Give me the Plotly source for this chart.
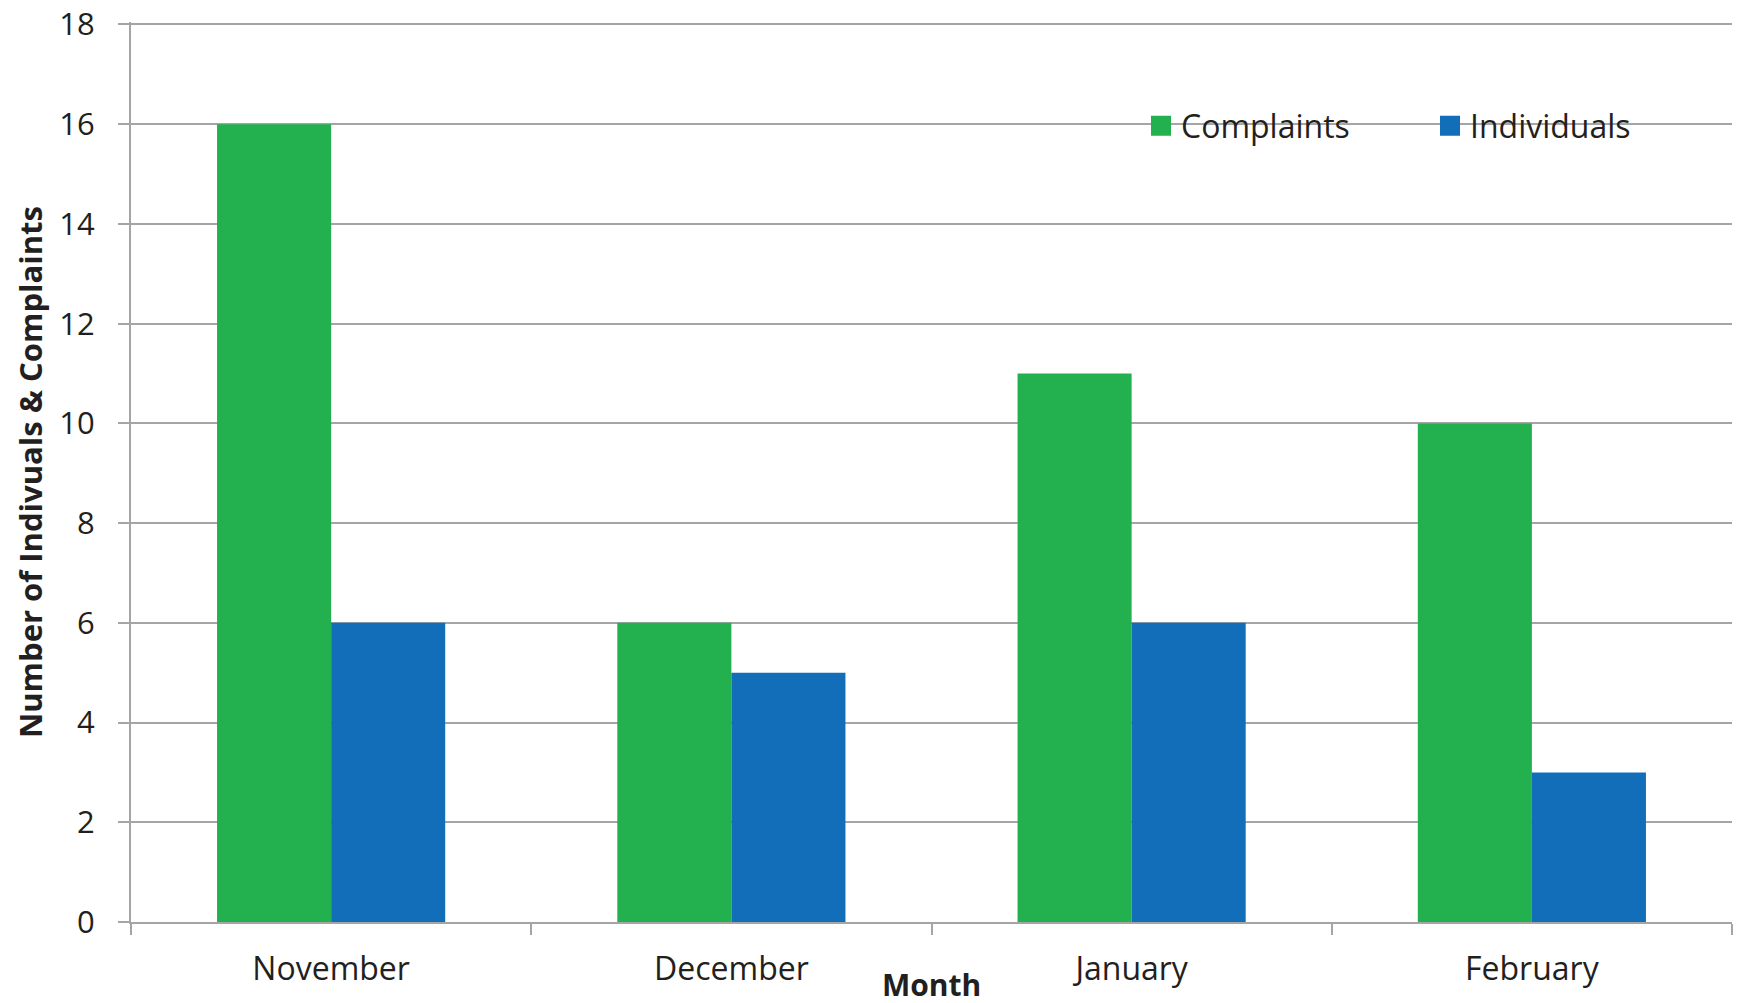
import plotly.graph_objects as go

months = ["November", "December", "January", "February"]
complaints = [16, 6, 11, 10]
individuals = [6, 5, 6, 3]
y_ticks = [0, 2, 4, 6, 8, 10, 12, 14, 16, 18]

GREEN = "#23B04F"
BLUE = "#126EB9"
GRID = "#A5A5A7"
TEXT = "#231F20"
FONT = "Open Sans"

OFF = 8  # default page body margin
W, H = 1743 - OFF, 1003 - OFF
L, R, T, B = 131 - OFF, 11, 22 - OFF, 81
pw = W - L - R
ph = H - T - B

def px_x(page_x):
    return (page_x - OFF - L) / pw

def px_y(page_y):
    return (T + ph - (page_y - OFF)) / ph

fig = go.Figure()
fig.add_trace(go.Bar(x=months, y=complaints, name="Complaints", showlegend=False,
                     marker=dict(color=GREEN, line=dict(width=0))))
fig.add_trace(go.Bar(x=months, y=individuals, name="Individuals", showlegend=False,
                     marker=dict(color=BLUE, line=dict(width=0))))
# legend entries with larger square swatches
fig.add_trace(go.Scatter(x=[None], y=[None], mode="markers", name="Complaints",
                         marker=dict(symbol="square", size=16, color=GREEN,
                                     line=dict(color=GREEN, width=4))))
fig.add_trace(go.Scatter(x=[None], y=[None], mode="markers", name="Individuals",
                         marker=dict(symbol="square", size=16, color=BLUE,
                                     line=dict(color=BLUE, width=4))))

fig.update_layout(
    width=W, height=H,
    margin=dict(l=L, r=R, t=T, b=B, pad=0, autoexpand=False),
    paper_bgcolor="white", plot_bgcolor="white",
    barmode="group", bargap=0.43, bargroupgap=0,
    font=dict(family=FONT, color=TEXT, size=32),
    showlegend=True,
    legend=dict(
        orientation="h",
        x=px_x(1141), y=px_y(126),
        xanchor="left", yanchor="middle",
        bgcolor="rgba(0,0,0,0)",
        font=dict(family=FONT, size=32, color=TEXT),
        itemwidth=30, entrywidth=244, entrywidthmode="pixels",
        traceorder="normal",
    ),
    xaxis=dict(
        type="category", tickson="boundaries",
        showgrid=False, showline=True, linecolor=GRID, linewidth=2,
        ticks="outside", ticklen=11, tickwidth=2, tickcolor=GRID,
        tickfont=dict(family=FONT, size=32, color=TEXT),
        ticklabelstandoff=18,
        zeroline=False,
    ),
    yaxis=dict(
        range=[0, 18.05], tickmode="array", tickvals=y_ticks,
        ticktext=[str(v) for v in y_ticks],
        ticklabeloverflow="allow",
        showgrid=True, gridcolor=GRID, gridwidth=2,
        showline=True, linecolor=GRID, linewidth=2,
        ticks="outside", ticklen=11, tickwidth=2, tickcolor=GRID,
        tickfont=dict(family=FONT, size=31, color=TEXT),
        ticklabelstandoff=17,
        zeroline=False,
    ),
    annotations=[
        dict(text="<b>Month</b>", xref="paper", yref="paper",
             x=0.5, y=px_y(984), xanchor="center", yanchor="middle",
             showarrow=False, font=dict(family=FONT, size=30, color=TEXT)),
        dict(text="<b>Number of Indivuals &amp; Complaints</b>", xref="paper", yref="paper",
             x=px_x(30), y=0.5, xanchor="center", yanchor="middle", textangle=-90,
             showarrow=False, font=dict(family=FONT, size=31, color=TEXT)),
    ],
)

fig.write_html("out.html")
